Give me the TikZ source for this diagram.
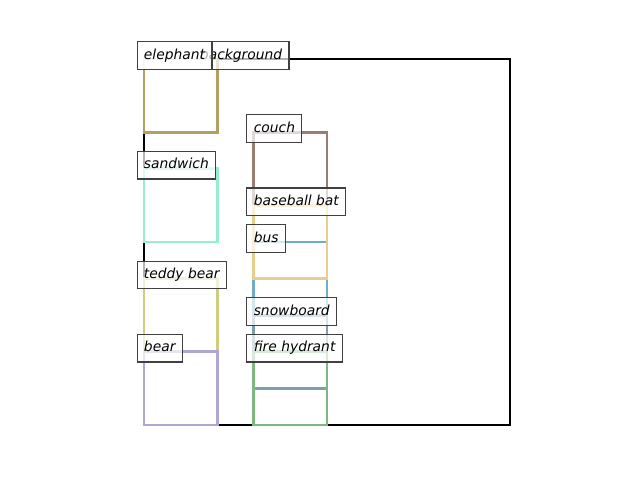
\documentclass[tikz,border=0pt]{standalone}
\usepackage{fontspec}
\setmainfont{DejaVu Sans}
\definecolor{elephantc}{RGB}{178,160,98}
\definecolor{sandwichc}{RGB}{150,236,212}
\definecolor{teddyc}{RGB}{206,206,128}
\definecolor{bearc}{RGB}{178,165,210}
\definecolor{couchc}{RGB}{152,125,115}
\definecolor{batc}{RGB}{232,206,140}
\definecolor{busc}{RGB}{108,174,196}
\definecolor{snowc}{RGB}{125,160,176}
\definecolor{hydrantc}{RGB}{128,182,130}
\tikzset{box/.style={rectangle,draw=#1,line width=2pt,minimum size=0.732in,inner sep=0pt,outer sep=0pt,anchor=north west}}
\tikzset{frame/.style={box=black,line width=1.6pt,minimum size=3.66in}}
\tikzset{tag/.style={rectangle,draw=black!75,line width=0.8pt,fill=white,fill opacity=0.7,text opacity=1,font=\itshape,inner xsep=5pt,inner ysep=5pt,text height=7.6pt,text depth=2.4pt,outer sep=0pt,anchor=base west}}

\begin{document}
\begin{tikzpicture}[x=0.732in,y=-0.732in]
    \useasboundingbox (-1.967,-0.806) rectangle (6.776,5.751);
    \node[frame] (bg) at (0,0) {};
      % left column
      \node[box=elephantc] (elephant) at (0,0) {};
      \node[box=sandwichc] (sandwich) at (0,1.5) {};
      \node[box=teddyc] (teddy) at (0,3) {};
      \node[box=bearc] (bear) at (0,4) {};
      % right column
      \node[box=busc] (bus) at (1.5,2.5) {};
      \node[box=snowc] (snow) at (1.5,3.5) {};
      \node[box=hydrantc] (hydrant) at (1.5,4) {};
      \node[box=couchc] (couch) at (1.5,1) {};
      \node[box=batc] (bat) at (1.5,2) {};
      % labels
      \node[tag] (bg-tag) at ([xshift=-5pt]bg.north west) {\hspace*{0.56in}background};
      \node[tag] (elephant-tag) at ([xshift=-5pt]elephant.north west) {elephant};
      \node[tag] (sandwich-tag) at ([xshift=-5pt]sandwich.north west) {sandwich};
      \node[tag] (teddy-tag) at ([xshift=-5pt]teddy.north west) {teddy bear};
      \node[tag] (bear-tag) at ([xshift=-5pt]bear.north west) {bear};
      \node[tag] (couch-tag) at ([xshift=-5pt]couch.north west) {couch};
      \node[tag] (bat-tag) at ([xshift=-5pt]bat.north west) {baseball bat};
      \node[tag] (bus-tag) at ([xshift=-5pt]bus.north west) {bus};
      \node[tag] (snow-tag) at ([xshift=-5pt]snow.north west) {snowboard};
      \node[tag] (hydrant-tag) at ([xshift=-5pt]hydrant.north west) {fire hydrant};
\end{tikzpicture}
\end{document}
